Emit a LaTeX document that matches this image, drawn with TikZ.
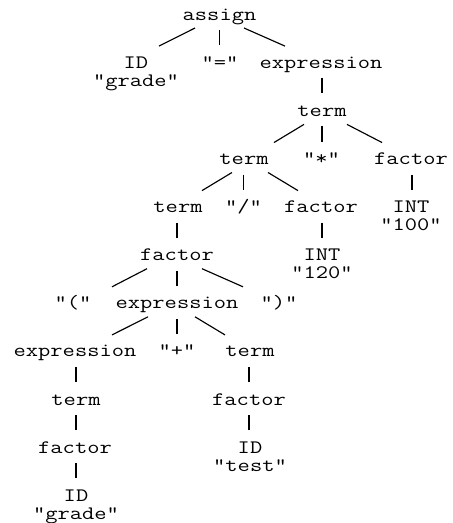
\documentclass[tikz,border=0pt]{standalone}
\usepackage{fontspec}
\setmonofont[FakeStretch=1.253]{Latin Modern Mono}
\newcommand\twoline[2]{\begin{tabular}[t]{@{}c@{}}#1\\#2\end{tabular}}
\newcommand\tedge[4]{\draw ([shift={(#2,8)}]#1.base) -- ([shift={(#4,-22)}]#3.base);}
\newcommand\vedge[4]{\draw ([shift={(#2,10)}]#1.base) -- ([shift={(#4,-23)}]#3.base);}
\begin{document}
\begin{tikzpicture}[x=1pt,y=-1pt,
  lab/.style={anchor=base,inner sep=0pt,font=\ttfamily\fontsize{19}{18}\selectfont},
  every path/.style={line width=1.15pt}]
\useasboundingbox (0,0) rectangle (453,523);
\def\rA{20}\def\rB{68.1}\def\rC{116.4}\def\rD{164.5}\def\rE{212.6}\def\rF{260.7}
\def\rG{308.8}\def\rH{356.9}\def\rI{405}\def\rJ{453}\def\rK{501}
\node[lab] (assign) at (219.5,\rA) {assign};
\node[lab] (id1) at (136,\rB) {\twoline{ID}{"grade"}};
\node[lab] (eq) at (220,\rB) {"="};
\node[lab] (expr1) at (321,\rB) {expression};
\node[lab] (term1) at (322,\rC) {term};
\node[lab] (term2) at (244,\rD) {term};
\node[lab] (times) at (321.5,\rD) {"*"};
\node[lab] (factor1) at (411,\rD) {factor};
\node[lab] (term3) at (178,\rE) {term};
\node[lab] (div) at (243.5,\rE) {"/"};
\node[lab] (factor2) at (321,\rE) {factor};
\node[lab] (int100) at (411,\rE) {\twoline{INT}{"100"}};
\node[lab] (factor3) at (177,\rF) {factor};
\node[lab] (int120) at (322,\rF) {\twoline{INT}{"120"}};
\node[lab] (lp) at (73,\rG) {"("};
\node[lab] (expr2) at (177,\rG) {expression};
\node[lab] (rp) at (279,\rG) {")"};
\node[lab] (expr3) at (75,\rH) {expression};
\node[lab] (plus) at (177,\rH) {"+"};
\node[lab] (term4) at (250,\rH) {term};
\node[lab] (term5) at (76,\rI) {term};
\node[lab] (factor4) at (249,\rI) {factor};
\node[lab] (factor5) at (75,\rJ) {factor};
\node[lab] (idtest) at (250,\rJ) {\twoline{ID}{"test"}};
\node[lab] (idgrade) at (76,\rK) {\twoline{ID}{"grade"}};
\tedge{assign}{-24.5}{id1}{23}
\vedge{assign}{0}{eq}{-0.5}
\tedge{assign}{24.5}{expr1}{-36}
\vedge{expr1}{1}{term1}{0}
\tedge{term1}{-18}{term2}{30}
\vedge{term1}{0}{times}{0.5}
\tedge{term1}{25}{factor1}{-29}
\tedge{term2}{-12}{term3}{24}
\vedge{term2}{-0.5}{div}{0}
\tedge{term2}{24}{factor2}{-23}
\vedge{factor1}{1}{int100}{1}
\vedge{term3}{-1}{factor3}{0}
\vedge{factor2}{1}{int120}{0}
\tedge{factor3}{-30}{lp}{39}
\vedge{factor3}{0}{expr2}{0}
\tedge{factor3}{25}{rp}{-36}
\tedge{expr2}{-29}{expr3}{37}
\vedge{expr2}{0}{plus}{0}
\tedge{expr2}{18}{term4}{-25}
\vedge{expr3}{1}{term5}{0}
\vedge{term4}{-1}{factor4}{0}
\vedge{term5}{0}{factor5}{1}
\vedge{factor4}{0}{idtest}{-1}
\vedge{factor5}{1}{idgrade}{0}
\end{tikzpicture}
\end{document}
